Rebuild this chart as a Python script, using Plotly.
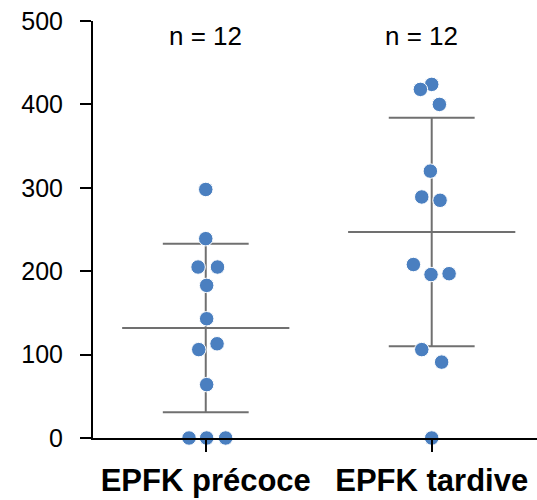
import plotly.graph_objects as go

categories = ["EPFK précoce", "EPFK tardive"]
n_labels = ["n = 12", "n = 12"]

precoce_values = [298, 239, 205, 205, 183, 143, 113, 106, 64, 0, 0, 0]
precoce_jitter = [0.0, 0.0, -0.034, 0.052, 0.004, 0.004, 0.05, -0.031, 0.004, -0.074, 0.004, 0.088]

tardive_values = [424, 418, 400, 320, 289, 285, 208, 196, 197, 106, 91, 0]
tardive_jitter = [0.0, -0.05, 0.034, -0.006, -0.044, 0.037, -0.081, -0.003, 0.077, -0.044, 0.044, 0.0]

means = [132, 247]
sds = [101, 137]

y_ticks = [0, 100, 200, 300, 400, 500]

blue = "#4a7fc0"
grey = "#707070"
FONT = "Liberation Sans, Arial, sans-serif"

fig = go.Figure()

groups = [(precoce_values, precoce_jitter), (tardive_values, tardive_jitter)]
for i, (vals, jit) in enumerate(groups):
    fig.add_trace(go.Scatter(
        x=[i + j for j in jit],
        y=vals,
        mode="markers",
        marker=dict(size=14.5, color=blue, line=dict(color="white", width=1)),
        cliponaxis=False,
        showlegend=False,
        hoverinfo="y",
    ))

shapes = []
for i, (m, s) in enumerate(zip(means, sds)):
    line = dict(color=grey, width=2)
    shapes.append(dict(type="line", xref="x", yref="y", x0=i - 0.37, x1=i + 0.37, y0=m, y1=m, line=line, layer="below"))
    shapes.append(dict(type="line", xref="x", yref="y", x0=i, x1=i, y0=m - s, y1=m + s, line=line, layer="below"))
    shapes.append(dict(type="line", xref="x", yref="y", x0=i - 0.19, x1=i + 0.19, y0=m + s, y1=m + s, line=line, layer="below"))
    shapes.append(dict(type="line", xref="x", yref="y", x0=i - 0.19, x1=i + 0.19, y0=m - s, y1=m - s, line=line, layer="below"))

annotations = []
for i, t in enumerate(n_labels):
    annotations.append(dict(
        x=i, y=1, xref="x", yref="paper", text=t, showarrow=False,
        yanchor="middle", yshift=-15, xshift=(0 if i == 0 else -10),
        font=dict(family=FONT, size=26, color="black"),
    ))

fig.update_layout(
    width=537, height=500,
    margin=dict(l=93, r=0, t=21, b=62),
    paper_bgcolor="white", plot_bgcolor="white",
    shapes=shapes, annotations=annotations,
    font=dict(family=FONT, color="black"),
    xaxis=dict(
        range=[-0.499, 1.466],
        tickmode="array", tickvals=[0, 1], ticktext=categories,
        tickfont=dict(family=FONT, size=31, color="black", weight="bold"),
        showline=True, linecolor="black", linewidth=2,
        ticks="outside", ticklen=12, tickwidth=2, tickcolor="black",
        showgrid=False, zeroline=False, automargin=False,
        ticklabelstandoff=2,
    ),
    yaxis=dict(
        range=[0, 500],
        tickmode="array", tickvals=y_ticks,
        tickfont=dict(family=FONT, size=25, color="black"),
        showline=True, linecolor="black", linewidth=2,
        ticks="outside", ticklen=11, tickwidth=2, tickcolor="black",
        showgrid=False, zeroline=False, automargin=False,
        ticklabelstandoff=12,
    ),
)

fig.write_html("out.html")
